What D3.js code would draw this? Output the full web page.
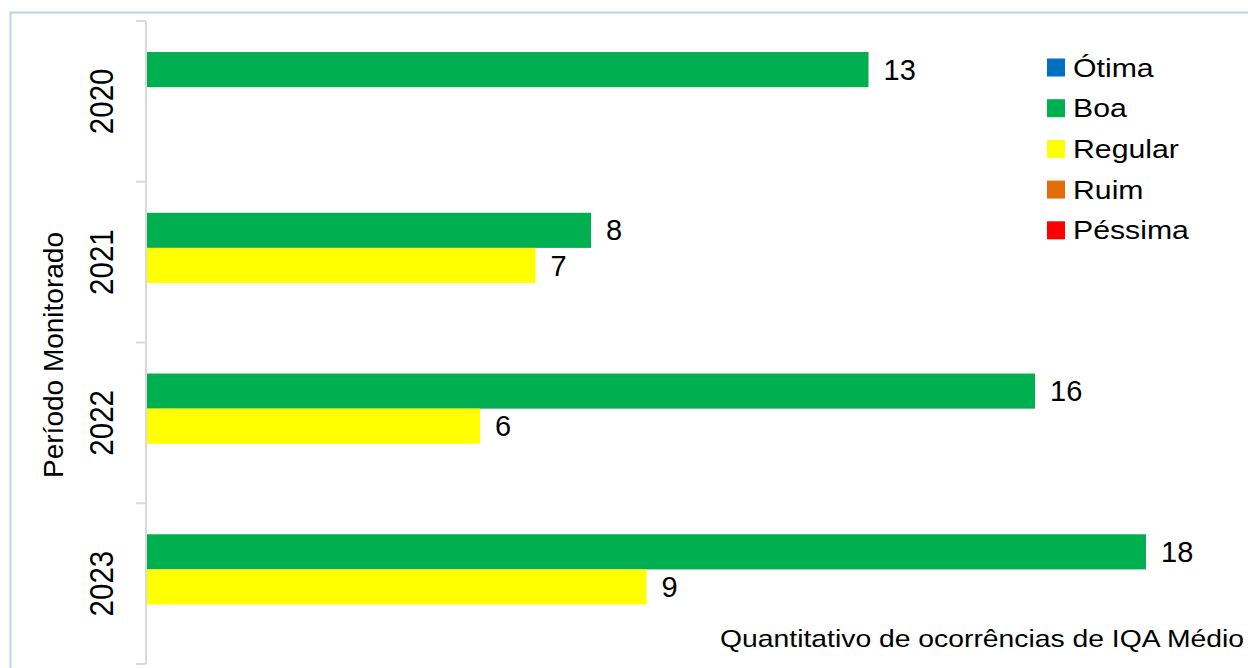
<!DOCTYPE html>
<html>
<head>
<meta charset="utf-8">
<script src="https://cdn.jsdelivr.net/npm/d3@7"></script>
<style>
  body { margin: 0; background: #fff; }
  text { font-family: "Liberation Sans", Arial, sans-serif; fill: #000; }
</style>
</head>
<body>
<svg width="1248" height="668"></svg>
<script>
var years = ["2020", "2021", "2022", "2023"];
var legendNames = ["Ótima", "Boa", "Regular", "Ruim", "Péssima"];
var legendColors = ["#0070c0", "#00b050", "#ffff00", "#e46c0a", "#ff0000"];
var boaValues = [13, 8, 16, 18];
var regularValues = [0, 7, 6, 9];
var shownSeries = ["Boa", "Regular"];

var svg = d3.select("svg"),
    width = +svg.attr("width"),
    height = +svg.attr("height");

// chart frame
svg.append("rect")
    .attr("x", 10.5).attr("y", 12.5)
    .attr("width", 1260).attr("height", 680)
    .attr("fill", "none")
    .attr("stroke", "#bcd2ea")
    .attr("stroke-width", 2);

var y = d3.scaleBand().domain(years).range([21, 664]);
var x = d3.scaleLinear().domain([0, 18]).range([147, 1146]);
var color = d3.scaleOrdinal().domain(legendNames).range(legendColors);

var bw = y.bandwidth();
var ySub = d3.scaleBand().domain(shownSeries).range([bw * 0.193, bw * 0.63]);

var rows = years.map(function (yr, i) {
    return { year: yr, Boa: boaValues[i], Regular: regularValues[i] };
});

// y axis (line, ticks between categories, rotated labels)
var axisG = svg.append("g").attr("transform", "translate(146,0)");
axisG.append("line")
    .attr("y1", 21).attr("y2", 664)
    .attr("stroke", "#d9d9d9").attr("stroke-width", 2);
axisG.selectAll("line.tick")
    .data(years.map(function (d) { return y(d); }).concat([664]))
    .enter().append("line")
    .attr("class", "tick")
    .attr("x1", -10).attr("x2", 0)
    .attr("y1", function (d) { return d; })
    .attr("y2", function (d) { return d; })
    .attr("stroke", "#d9d9d9").attr("stroke-width", 2);

axisG.selectAll("text.year")
    .data(years)
    .enter().append("text")
    .attr("class", "year")
    .attr("transform", function (d) {
        return "translate(-33," + (y(d) + bw / 2) + ") rotate(-90) scale(1,1.12)";
    })
    .attr("text-anchor", "middle")
    .attr("font-size", 29.5)
    .text(function (d) { return d; });

svg.append("text")
    .attr("transform", "translate(63,355) rotate(-90)")
    .attr("text-anchor", "middle")
    .attr("font-size", 28)
    .text("Período Monitorado");

// bars
var group = svg.append("g").selectAll("g")
    .data(rows)
    .enter().append("g")
    .attr("transform", function (d) { return "translate(0," + y(d.year) + ")"; });

var bars = group.selectAll("rect")
    .data(function (d) {
        return shownSeries.map(function (s) { return { key: s, value: d[s] }; });
    })
    .enter();

bars.append("rect")
    .attr("x", x(0))
    .attr("y", function (d) { return ySub(d.key); })
    .attr("width", function (d) { return x(d.value) - x(0); })
    .attr("height", ySub.bandwidth())
    .attr("fill", function (d) { return color(d.key); });

bars.filter(function (d) { return d.value > 0; })
    .append("text")
    .attr("x", function (d) { return x(d.value) + 15; })
    .attr("y", function (d) { return ySub(d.key) + ySub.bandwidth() / 2; })
    .attr("dy", "0.35em")
    .attr("font-size", 29)
    .text(function (d) { return d.value; });

// legend
var legend = svg.append("g").selectAll("g")
    .data(legendNames)
    .enter().append("g")
    .attr("transform", function (d, i) { return "translate(1047," + (67.5 + i * 40.7) + ")"; });

legend.append("rect")
    .attr("x", 0).attr("y", -9)
    .attr("width", 18).attr("height", 18)
    .attr("fill", function (d) { return color(d); });

legend.append("text")
    .attr("transform", "translate(26,9) scale(1.21,1)")
    .attr("font-size", 25)
    .text(function (d) { return d; });

// x axis title
svg.append("text")
    .attr("transform", "translate(1244,647) scale(1.18,1)")
    .attr("text-anchor", "end")
    .attr("font-size", 24)
    .text("Quantitativo de ocorrências de IQA Médio");
</script>
</body>
</html>
